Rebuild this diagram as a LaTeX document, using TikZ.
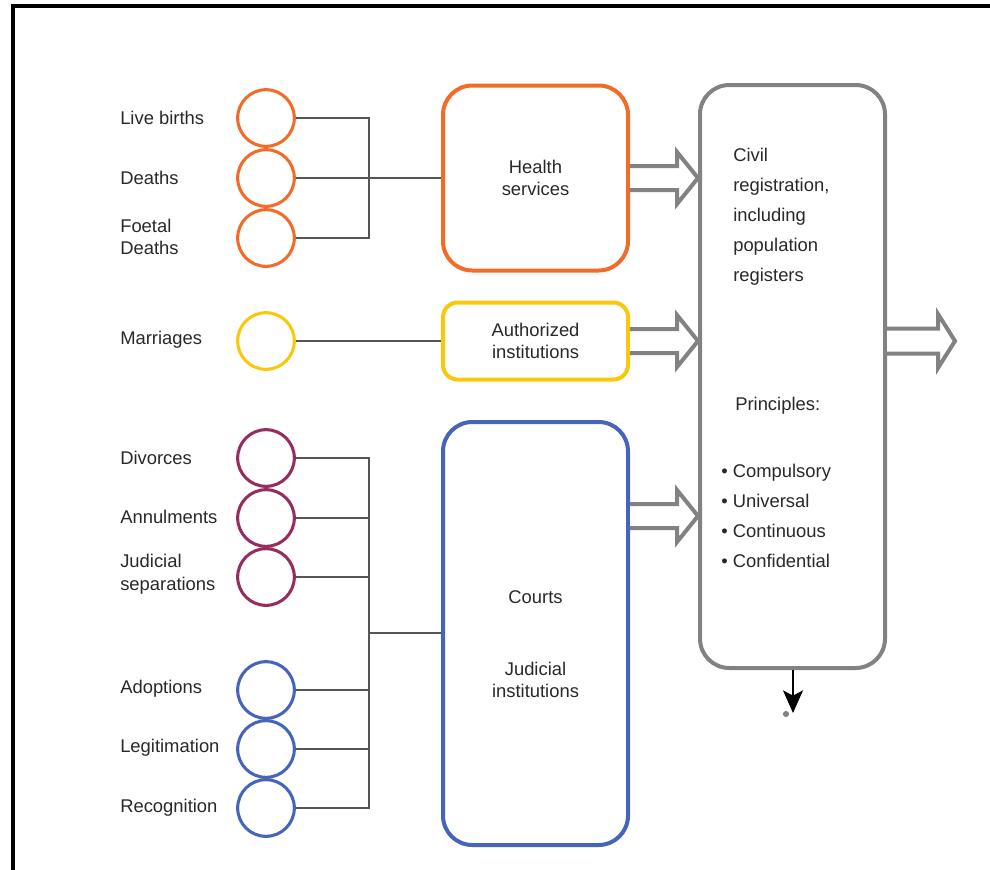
\documentclass[tikz,border=0pt]{standalone}
\usepackage{fontspec}
\setmainfont{Liberation Sans}
\usetikzlibrary{calc,arrows.meta}
\definecolor{corange}{RGB}{240,108,40}
\definecolor{cyellow}{RGB}{250,200,10}
\definecolor{cpurple}{RGB}{150,45,95}
\definecolor{cblue}{RGB}{70,100,185}
\definecolor{cgray}{RGB}{130,130,130}
\definecolor{ctext}{RGB}{40,40,40}
\definecolor{cconn}{RGB}{85,85,85}
\newcommand\hollowarrow[5]{% from, to, shaft half, head half, head length
  \draw[harrow] ($(#1)+(0,-#3)$) -- ($(#2)+(-#5,-#3)$) -- ($(#2)+(-#5,-#4)$) -- (#2)
    -- ($(#2)+(-#5,#4)$) -- ($(#2)+(-#5,#3)$) -- ($(#1)+(0,#3)$);}
\begin{document}
\begin{tikzpicture}[x=0.75pt,y=-0.75pt,
  every node/.style={font=\fontsize{13.8}{17}\selectfont, text=ctext},
  circ/.style={circle, draw=#1, line width=2.3pt, minimum size=42.5pt, inner sep=0pt},
  lbl/.style={anchor=west, align=left, inner sep=0pt},
  box/.style={draw=#1, line width=3pt, rounded corners=22pt, align=center},
  conn/.style={draw=cconn, line width=1pt},
  harrow/.style={draw=cgray, line width=3pt, line join=miter, fill=white}]
\useasboundingbox (0,0) rectangle (990,869);
\draw[line width=2.3pt] (13,875) -- (13,6) -- (995,6);

% circles
\node[circ=corange] (c1) at (266,118) {};
\node[circ=corange] (c2) at (266,178) {};
\node[circ=corange] (c3) at (266,238) {};
\node[circ=cyellow] (m1) at (266,341) {};
\node[circ=cpurple] (d1) at (266,458) {};
\node[circ=cpurple] (d2) at (266,518) {};
\node[circ=cpurple] (d3) at (266,577) {};
\node[circ=cblue] (a1) at (266,690) {};
\node[circ=cblue] (a2) at (266,749) {};
\node[circ=cblue] (a3) at (266,808) {};

% labels
\node[lbl] (l1) at (120,118) {Live births};
\node[lbl] (l2) at (120,178) {Deaths};
\node[lbl] (l3) at (120,237) {Foetal\\Deaths};
\node[lbl] (l4) at (120,340) {Marriages};
\node[lbl] (l5) at (120,458) {Divorces};
\node[lbl] (l6) at (120,517) {Annulments};
\node[lbl] (l7) at (120,574) {Judicial\\separations};
\node[lbl] (l8) at (120,689) {Adoptions};
\node[lbl] (l9) at (120,748) {Legitimation};
\node[lbl] (l10) at (120,808) {Recognition};

% boxes
\node[box=corange, minimum width=138.75pt, minimum height=138.75pt] (hs) at (535.5,178) {Health\\services};
\node[box=cyellow, rounded corners=11pt, minimum width=138.75pt, minimum height=57.75pt] (ai) at (535.5,341) {Authorized\\institutions};
\node[box=cblue, minimum width=138.75pt, minimum height=317.25pt] (ct) at (535.5,633.5) {};
\node (ctt) at (535.5,597) {Courts};
\node[align=center] (cti) at (535.5,680) {Judicial\\institutions};
\node[box=cgray, minimum width=138.75pt, minimum height=437.25pt] (civ) at (792.5,376.5) {};
\node[lbl, font=\fontsize{13.8}{22.5}\selectfont] (civt) at (733,217) {Civil\\registration,\\including\\population\\registers};
\node[lbl] (pr) at (735,406) {Principles:};
\node[lbl, font=\fontsize{13.8}{22.5}\selectfont] (prl) at (721,516) {• Compulsory\\• Universal\\• Continuous\\• Confidential};

% connectors
\coordinate (b1) at (369,178);
\coordinate (b2) at (369,633);
\draw[conn] (c1.east) -| (b1) |- (c3.east);
\draw[conn] (c2.east) -- (c2.east -| hs.west);
\draw[conn] (m1.east) -- (m1.east -| ai.west);
\draw[conn] (d1.east) -| (b2) |- (a3.east);
\draw[conn] (d2.east) -- (d2.east -| b2);
\draw[conn] (d3.east) -- (d3.east -| b2);
\draw[conn] (a1.east) -- (a1.east -| b2);
\draw[conn] (a2.east) -- (a2.east -| b2);
\draw[conn] (b2) -- (b2 -| ct.west);

% hollow arrows
\coordinate (y3) at (697,516);
\coordinate (hsend) at (civ.west |- hs.east);
\coordinate (aiend) at (civ.west |- ai.east);
\coordinate (ctstart) at (ct.east |- y3);
\coordinate (ctend) at (civ.west |- y3);
\coordinate (out) at (955,341);
\coordinate (outstart) at (civ.east |- out);
\hollowarrow{hs.east}{hsend}{12}{26}{21}
\hollowarrow{ai.east}{aiend}{12}{26}{21}
\hollowarrow{ctstart}{ctend}{12}{26}{21}
\hollowarrow{outstart}{out}{12.5}{27}{17}

% bottom arrow
\coordinate (down) at (793,713);
\draw[line width=1.5pt, -{Stealth[length=17pt,width=15pt,inset=4pt]}] (civ.south -| down) -- (down);
\fill[cgray] (786,714) circle (2.3pt);
\end{tikzpicture}
\end{document}
